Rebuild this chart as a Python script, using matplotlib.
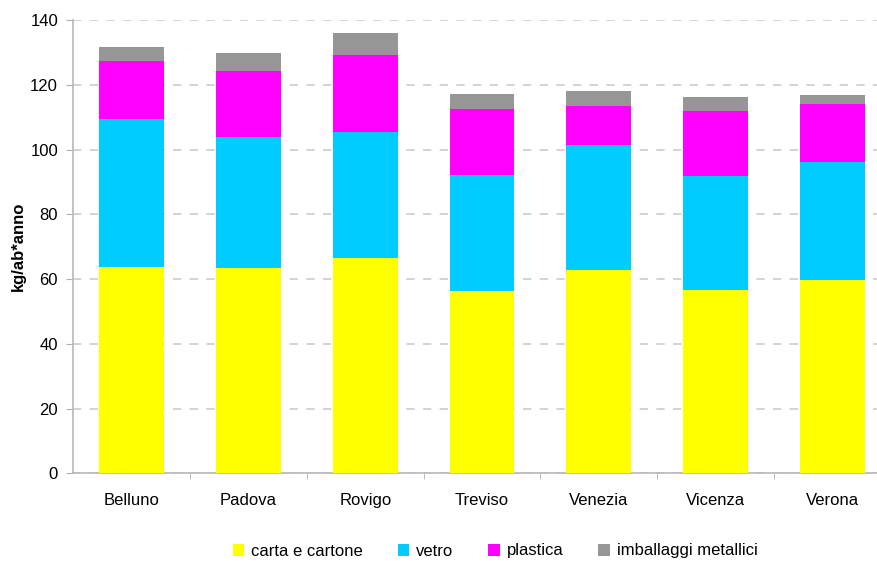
import matplotlib.pyplot as plt
import numpy as np

plt.rcParams["font.family"] = ["Liberation Sans", "DejaVu Sans"]

# values (kg/ab*anno)
province = ["Belluno", "Padova", "Rovigo", "Treviso", "Venezia", "Vicenza", "Verona"]
carta = [63.7, 63.4, 66.5, 56.3, 62.8, 56.6, 59.7]
vetro = [45.7, 40.5, 39.0, 35.8, 38.6, 35.2, 36.5]
plastica = [18.0, 20.4, 23.7, 20.4, 12.1, 20.1, 18.0]
metalli = [4.3, 5.5, 6.8, 4.7, 4.6, 4.3, 2.6]

series = [
    ("carta e cartone", carta, "#FFFF00"),
    ("vetro", vetro, "#00CCFF"),
    ("plastica", plastica, "#FF00FF"),
    ("imballaggi metallici", metalli, "#969696"),
]

W, H = 878, 561
fig = plt.figure(figsize=(W / 100, H / 100), dpi=100)
# plot area runs a bit past the right edge, as in the original crop
ax = fig.add_axes([73.3 / W, 1 - 473.3 / H, 817.5 / W, 453.3 / H])

x = np.arange(len(province))
bottom = np.zeros(len(province))
for name, vals, col in series:
    ax.bar(x, vals, 0.555, bottom=bottom, color=col, label=name, zorder=3)
    bottom += np.array(vals)

ax.set_xlim(-0.5, len(province) - 0.5)
ax.set_ylim(0, 140)
ax.set_yticks(range(0, 141, 20))
ax.set_xticks(x)
ax.set_xticklabels(province, fontsize=12)
ax.set_xticks(np.arange(0.5, len(province) - 0.5, 1), minor=True)
ax.tick_params(axis="x", which="major", length=0, pad=14)
ax.tick_params(axis="x", which="minor", length=4, color="#b0b0b0")
ax.tick_params(axis="y", length=5, color="#b0b0b0", labelsize=12, pad=6)

ax.grid(axis="y", color="#cccccc", linestyle=(0, (5, 5)), linewidth=1.2, zorder=0)
for s in ["top", "right"]:
    ax.spines[s].set_visible(False)
for s in ["left", "bottom"]:
    ax.spines[s].set_color("#b8b8b8")
    ax.spines[s].set_linewidth(1.2)

ax.set_ylabel("kg/ab*anno", fontsize=12, fontweight="bold", labelpad=3)

fig.legend(
    loc="center",
    bbox_to_anchor=(495 / W, 1 - 551 / H),
    ncol=4,
    frameon=False,
    fontsize=12,
    handlelength=0.7,
    handleheight=0.7,
    handletextpad=0.4,
    columnspacing=2.1,
    borderaxespad=0,
)

fig.savefig("out.png", dpi=100)
